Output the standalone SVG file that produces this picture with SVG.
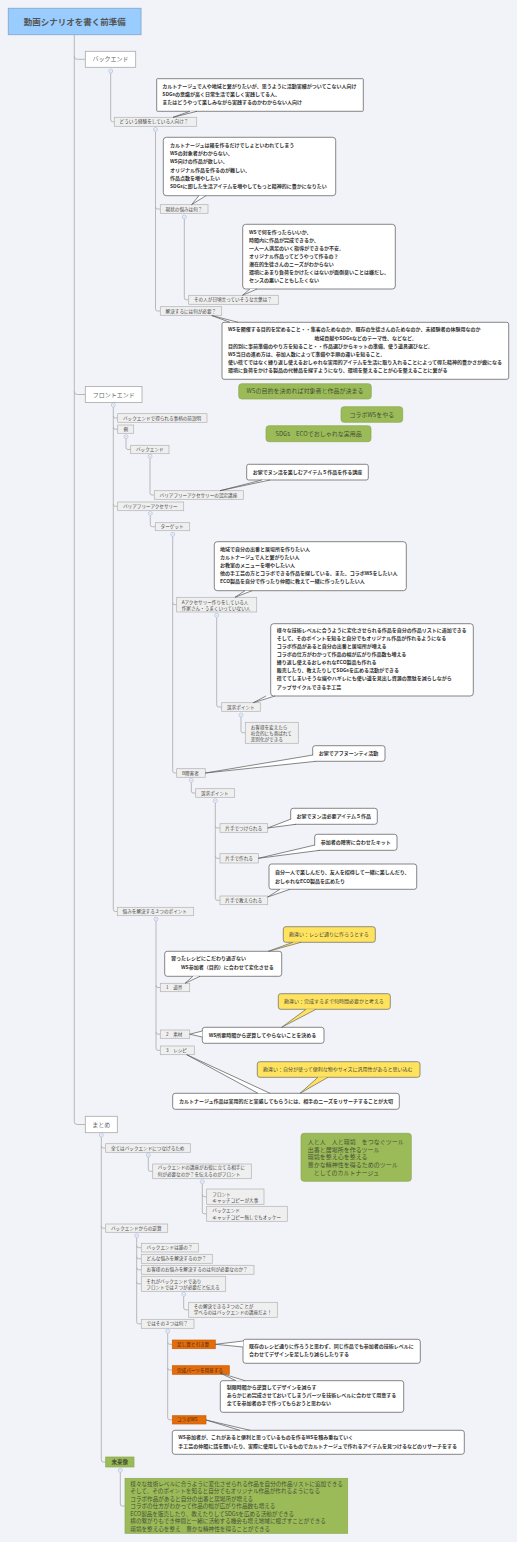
<svg xmlns="http://www.w3.org/2000/svg" width="517" height="1542" viewBox="0 0 517 1542">
<style>
text{font-family:"Noto Sans CJK JP","Noto Sans",sans-serif}
.ln{fill:none;stroke:#a8a8a8;stroke-width:0.8}
.top rect{fill:#fff;stroke:#a8a8a8;stroke-width:0.8}
.top text{font-size:6px;fill:#666;text-anchor:middle}
.sm rect{fill:#efefef;stroke:#b2b2b2;stroke-width:0.7}
.sm text{font-size:4.6px;fill:#444}
.or rect{fill:#e46c0a;stroke:#c9600a;stroke-width:0.7}
.or text{font-size:4.6px;fill:#3a2a1a}
.co rect,.co path{fill:#fff;stroke:#555;stroke-width:0.7}
.co text{font-size:5px;font-weight:bold;fill:#333}
.ye rect,.ye path{fill:#ffe35e;stroke:#666;stroke-width:0.7}
.ye text{font-size:5px;fill:#444}
.gr rect{fill:#9bbb59;stroke:#8aa84f;stroke-width:0.7}
.gr text{fill:#474f36}
.cc circle{fill:#f7f8fc;stroke:#9fb3d9;stroke-width:0.6}
.cc path{stroke:#9fb3d9;stroke-width:0.5}
</style>
<rect x="0" y="0" width="517" height="1542" fill="#f2f3f8"/>

<g id="connectors" class="ln">
<path d="M74.3,34.7 V1121.5 Q74.3,1124.5 77.3,1124.5 H85.3"/>
<path d="M74.3,56.3 Q74.3,59.3 77.3,59.3 H85.3"/>
<path d="M74.3,391.5 Q74.3,394.5 77.3,394.5 H85.3"/>
<path d="M110.7,73 V119.8 Q110.7,121.8 112.7,121.8 H114.3"/>
<path d="M155.5,131.5 V309 Q155.5,311 157.5,311 H160.3"/>
<path d="M155.5,207 Q155.5,209 157.5,209 H160.3"/>
<path d="M184.3,219 V297.8 Q184.3,299.8 186.3,299.8 H188.7"/>
<path d="M113.3,407 V909.5 Q113.3,911.5 115.3,911.5 H117.3"/>
<path d="M113.3,416 Q113.3,418 115.3,418 H117.7"/>
<path d="M113.3,427.2 Q113.3,429.2 115.3,429.2 H117.7"/>
<path d="M113.3,504.3 Q113.3,506.3 115.3,506.3 H117.7"/>
<path d="M126,438.7 V447.5 Q126,449.5 128,449.5 H130.7"/>
<path d="M150,458.3 V493 Q150,495 152,495 H154.3"/>
<path d="M150.3,515.5 V524.7 Q150.3,526.7 152.3,526.7 H155.3"/>
<path d="M172.7,536.3 V771 Q172.7,773 174.7,773 H176.7"/>
<path d="M172.7,602.7 Q172.7,604.7 174.7,604.7 H176.7"/>
<path d="M216.7,617.3 V705 Q216.7,707 218.7,707 H221.7"/>
<path d="M241,717 V730.8 Q241,732.8 243,732.8 H245.3"/>
<path d="M191.3,782.3 V791 Q191.3,793 193.3,793 H195.7"/>
<path d="M215.3,802.7 V898.3 Q215.3,900.3 217.3,900.3 H220"/>
<path d="M215.3,826 Q215.3,828 217.3,828 H220"/>
<path d="M215.3,856.3 Q215.3,858.3 217.3,858.3 H220"/>
<path d="M156,921 V1048.3 Q156,1050.3 158,1050.3 H160.3"/>
<path d="M156,985.5 Q156,987.5 158,987.5 H160.3"/>
<path d="M156,1032.2 Q156,1034.2 158,1034.2 H160.3"/>
<path d="M101.3,1137 V1460 Q101.3,1462 103.3,1462 H105.7"/>
<path d="M101.3,1146 Q101.3,1148 103.3,1148 H105.7"/>
<path d="M101.3,1226.2 Q101.3,1228.2 103.3,1228.2 H105.7"/>
<path d="M148.3,1157 V1169.3 Q148.3,1171.3 150.3,1171.3 H152.7"/>
<path d="M202.3,1183.7 V1211.8 Q202.3,1213.8 204.3,1213.8 H206.7"/>
<path d="M202.3,1194.7 Q202.3,1196.7 204.3,1196.7 H206.7"/>
<path d="M136.7,1237.7 V1321.8 Q136.7,1323.8 138.7,1323.8 H141.3"/>
<path d="M136.7,1245.7 Q136.7,1247.7 138.7,1247.7 H141.3"/>
<path d="M136.7,1256.8 Q136.7,1258.8 138.7,1258.8 H141.3"/>
<path d="M136.7,1267.8 Q136.7,1269.8 138.7,1269.8 H141.3"/>
<path d="M136.7,1281.8 Q136.7,1283.8 138.7,1283.8 H141.3"/>
<path d="M183.7,1296.3 V1307.8 Q183.7,1309.8 185.7,1309.8 H188.7"/>
<path d="M167.7,1333.3 V1417.8 Q167.7,1419.8 169.7,1419.8 H172.3"/>
<path d="M167.7,1342.3 Q167.7,1344.3 169.7,1344.3 H172.3"/>
<path d="M167.7,1368 Q167.7,1370 169.7,1370 H172.3"/>
<path d="M120.3,1472.3 V1504 Q120.3,1506 122.3,1506 H125"/>
</g>

<g id="title">
<rect x="8.3" y="8.3" width="132.7" height="26.4" fill="#99ccff" stroke="#86a9cc" stroke-width="0.9"/>
<text x="74.7" y="24.6" font-size="8.5" font-weight="bold" fill="#555" text-anchor="middle">動画シナリオを書く前準備</text>
</g>

<g id="n-backend" class="top"><rect x="85.3" y="51.3" width="50.4" height="16"/><text x="110.5" y="61.4">バックエンド</text></g>
<g id="n-frontend" class="top"><rect x="85.3" y="386.5" width="56.7" height="16"/><text x="113.7" y="396.6">フロントエンド</text></g>
<g id="n-matome" class="top"><rect x="85.3" y="1116.3" width="32" height="16.4"/><text x="101.3" y="1126.6">まとめ</text></g>

<g id="n-dou" class="sm"><rect x="114.3" y="117.3" width="82.4" height="9"/><text x="119.6" y="123.4">どういう経験をしている人向け？</text></g>
<g id="n-gen" class="sm"><rect x="160.3" y="204.7" width="47.7" height="8.6"/><text x="165.6" y="210.6">現状の悩みは何？</text></g>
<g id="n-sono" class="sm"><rect x="188.7" y="295.3" width="89.6" height="9"/><text x="194" y="301.4">その人が日頃言っていそうな言葉は？</text></g>
<g id="n-kai" class="sm"><rect x="160.3" y="306.7" width="61.4" height="8.6"/><text x="165.6" y="312.6">解決するには何が必要？</text></g>
<g id="n-mae" class="sm"><rect x="117.7" y="413.7" width="89.3" height="8.6"/><text x="123" y="419.6">バックエンドで得られる事柄の前説明</text></g>
<g id="n-rei" class="sm"><rect x="117.7" y="425" width="16" height="8.3"/><text x="123.4" y="430.8">例</text></g>
<g id="n-be2" class="sm"><rect x="130.7" y="445.3" width="38.3" height="8.4"/><text x="136" y="451.1">バックエンド</text></g>
<g id="n-nin" class="sm"><rect x="154.3" y="490.7" width="89" height="8.6"/><text x="159.6" y="496.6">バリアフリーアクセサリーの認定講座</text></g>
<g id="n-bfa" class="sm"><rect x="117.7" y="502" width="66" height="8.7"/><text x="123" y="507.9">バリアフリーアクセサリー</text></g>
<g id="n-tg" class="sm"><rect x="155.3" y="522.7" width="34.4" height="8"/><text x="160.6" y="528.3">ターゲット</text></g>
<g id="n-a" class="sm"><rect x="176.7" y="597.3" width="80" height="14.7"/><text x="181.7" y="603.6">Aアクセサリー作りをしている人</text><text x="181.7" y="609.9">作家さん・うまくいっていない人</text></g>
<g id="n-so1" class="sm"><rect x="221.7" y="702.7" width="38.6" height="8.6"/><text x="227" y="708.6">訴求ポイント</text></g>
<g id="n-oky" class="sm"><rect x="245.3" y="722.3" width="53" height="21"/><text x="250.7" y="729.3">お客様を変えたら</text><text x="250.7" y="735.2">社会的にも喜ばれて</text><text x="250.7" y="741.2">差別化ができる</text></g>
<g id="n-b" class="sm"><rect x="176.7" y="768.7" width="28.6" height="8.6"/><text x="182" y="774.6">B障害者</text></g>
<g id="n-so2" class="sm"><rect x="195.7" y="788.7" width="39" height="8.6"/><text x="201" y="794.6">訴求ポイント</text></g>
<g id="n-k1" class="sm"><rect x="220" y="823.7" width="47.7" height="8.6"/><text x="225.3" y="829.6">片手でつけられる</text></g>
<g id="n-k2" class="sm"><rect x="220" y="853.7" width="38.3" height="9.3"/><text x="225.3" y="859.9">片手で作れる</text></g>
<g id="n-k3" class="sm"><rect x="220" y="896" width="47.7" height="8.7"/><text x="225.3" y="901.9">片手で教えられる</text></g>
<g id="n-nay" class="sm"><rect x="117.3" y="907.3" width="76.4" height="8.4"/><text x="122.6" y="913.1">悩みを解決する３つのポイント</text></g>
<g id="n-p1" class="sm"><rect x="160.3" y="983.3" width="29.4" height="8.4"/><text x="166" y="989.1">1　道具</text></g>
<g id="n-p2" class="sm"><rect x="160.3" y="1030" width="29.4" height="8.3"/><text x="166" y="1035.8">2　素材</text></g>
<g id="n-p3" class="sm"><rect x="160.3" y="1046" width="34" height="8.7"/><text x="166" y="1051.9">3　レシピ</text></g>
<g id="n-sub" class="sm"><rect x="105.7" y="1143.7" width="84.6" height="8.6"/><text x="111" y="1149.6">全てはバックエンドにつなげるため</text></g>
<g id="n-kou" class="sm"><rect x="152.7" y="1164" width="98.6" height="14.7"/><text x="157.7" y="1169.3">バックエンドの講座がお役に立てる相手に</text><text x="157.7" y="1175.6">何が必要なのか？を伝えるのがフロント</text></g>
<g id="n-fr" class="sm"><rect x="206.7" y="1189" width="57.3" height="15.3"/><text x="212.3" y="1195.6">フロント</text><text x="212.3" y="1201.6">キャッチコピーが大事</text></g>
<g id="n-bk" class="sm"><rect x="206.7" y="1206.3" width="80.6" height="15"/><text x="212.3" y="1212.3">バックエンド</text><text x="212.3" y="1218.9">キャッチコピー無しでもオッケー</text></g>
<g id="n-gya" class="sm"><rect x="105.7" y="1224" width="62" height="8.3"/><text x="111" y="1229.8">バックエンドからの逆算</text></g>
<g id="n-dare" class="sm"><rect x="141.3" y="1243.3" width="57" height="8.7"/><text x="146.6" y="1249.3">バックエンドは誰の？</text></g>
<g id="n-don" class="sm"><rect x="141.3" y="1254.3" width="71" height="9"/><text x="146.6" y="1260.4">どんな悩みを解決するのか？</text></g>
<g id="n-oka" class="sm"><rect x="141.3" y="1265.3" width="112.7" height="9"/><text x="146.6" y="1271.4">お客様のお悩みを解決するのは何が必要なのか？</text></g>
<g id="n-sore" class="sm"><rect x="141.3" y="1276.3" width="84.4" height="15"/><text x="146.3" y="1282.6">それがバックエンドであり</text><text x="146.3" y="1288.6">フロントでは２つが必要だと伝える</text></g>
<g id="n-kai3" class="sm"><rect x="188.7" y="1302.3" width="88.6" height="15"/><text x="193.7" y="1308.3">その解決できる３つのことが</text><text x="193.7" y="1314.3">学べるのはバックエンドの講座だよ！</text></g>
<g id="n-deha" class="sm"><rect x="141.3" y="1319.3" width="52.7" height="9"/><text x="146.6" y="1325.4">ではその３つは何？</text></g>
<g id="n-tashi" class="or"><rect x="172.3" y="1340" width="43" height="8.7"/><text x="177" y="1345.9">足し算と引き算</text></g>
<g id="n-kan" class="or"><rect x="172.3" y="1365.7" width="57" height="8.6"/><text x="177" y="1371.6">完成パーツを用意する</text></g>
<g id="n-colws" class="or"><rect x="172.3" y="1415.7" width="33.7" height="8.3"/><text x="177" y="1421.4">コラボWS</text></g>

<g id="c1" class="co"><rect x="156.7" y="78.7" width="206.6" height="32.6" rx="0.8"/><path d="M190,111.3 L173,117.3 L197,111.3"/>
<text x="162.3" y="87.5">カルトナージュで人や地域と繋がりたいが、思うように活動実績がついてこない人向け</text>
<text x="162.3" y="95.5">SDGsの意識が高く日常生活で楽しく実践してる人、</text>
<text x="162.3" y="103.5">またはどうやって楽しみながら実践するのかわからない人向け</text></g>

<g id="c2" class="co"><rect x="163.3" y="137.3" width="172.4" height="58.4" rx="3"/><path d="M199,195.7 L191.5,204.7 L206,195.7"/>
<text x="170" y="146.5">カルトナージュは箱を作るだけでしょといわれてしまう</text>
<text x="170" y="154.8">WSの対象者がわからない、</text>
<text x="170" y="163.1">WS向けの作品が欲しい、</text>
<text x="170" y="171.5">オリジナル作品を作るのが難しい、</text>
<text x="170" y="179.8">作品点数を増やしたい</text>
<text x="170" y="188.1">SDGsに即した生活アイテムを増やしてもっと精神的に豊かになりたい</text></g>

<g id="c3" class="co"><rect x="242.7" y="224.3" width="152.6" height="64.7" rx="3"/><path d="M250,289 L242.5,295.3 L257,289"/>
<text x="249" y="234.1">WSで何を作ったらいいか、</text>
<text x="249" y="241.8">時間内に作品が完成できるか、</text>
<text x="249" y="249.8">一人一人満足のいく指導ができるか不安。</text>
<text x="249" y="258.1">オリジナル作品ってどうやって作るの？</text>
<text x="249" y="266.1">潜在的生徒さんのニーズがわからない</text>
<text x="249" y="274.1">環境にあまり負荷をかけたくはないが面倒臭いことは嫌だし、</text>
<text x="249" y="282.1">センスの悪いこともしたくない</text></g>

<g id="c4" class="co"><rect x="222" y="322.3" width="286.7" height="57" rx="2"/><path d="M230,322.3 L211.7,315.5 L238,322.3"/>
<text x="228" y="331.1">WSを開催する目的を定めること・・集客のためなのか、既存の生徒さんのためなのか、未経験者の体験用なのか</text>
<text x="314.3" y="339.5">地域貢献やSDGsなどのテーマ性、などなど。</text>
<text x="228" y="347.5">目的別に事前準備のやり方を知ること・・作品選びからキットの準備、使う道具選びなど。</text>
<text x="228" y="355.5">WS当日の進め方は、参加人数によって準備や手順の違いを知ること。</text>
<text x="228" y="363.8">使い捨てではなく繰り返し使えるおしゃれな実用的アイテムを生活に取り入れることによって得た精神的豊かさが癖になる</text>
<text x="228" y="371.8">環境に負荷をかける製品の代替品を探すようになり、環境を整えることが心を整えることに繋がる</text></g>

<g id="g1" class="gr"><rect x="238.7" y="383.7" width="132.6" height="15.3" rx="3"/><text x="305" y="393.4" font-size="6" text-anchor="middle">WSの目的を決めれば対象者と作品が決まる</text></g>
<g id="g2" class="gr"><rect x="341" y="406.7" width="61.7" height="15.6" rx="3"/><text x="371.8" y="416.6" font-size="6" text-anchor="middle">コラボWSをやる</text></g>
<g id="g3" class="gr"><rect x="266" y="425.7" width="105" height="16" rx="3"/><text x="318.5" y="435.8" font-size="6" text-anchor="middle">SDGs　ECOでおしゃれな実用品</text></g>

<g id="c5" class="co"><rect x="246.7" y="464.3" width="121.6" height="15.7" rx="2"/><path d="M262,480 L220,490.7 L270,480"/>
<text x="252.7" y="474">お家でヌン活を楽しむアイテム５作品を作る講座</text></g>

<g id="c6" class="co"><rect x="214.3" y="541.7" width="192" height="49" rx="3"/><path d="M245,590.7 L235,597.3 L252,590.7"/>
<text x="220" y="550.8">地域で自分の出番と居場所を作りたい人</text>
<text x="220" y="558.8">カルトナージュで人と繋がりたい人</text>
<text x="220" y="566.8">お教室のメニューを増やしたい人</text>
<text x="220" y="574.8">他の手工芸の方とコラボできる作品を探している、また、コラボWSをしたい人</text>
<text x="220" y="582.8">ECO製品を自分で作ったり仲間に教えて一緒に作ったりしたい人</text></g>

<g id="c7" class="co"><rect x="270.7" y="623.7" width="202.6" height="72.3" rx="3"/><path d="M266,696 L253.3,702.7 L275,696"/>
<text x="276.7" y="631.8">様々な技術レベルに合うように変化させられる作品を自分の作品リストに追加できる</text>
<text x="276.7" y="639.9">そして、そのポイントを知ると自分でもオリジナル作品が作れるようになる</text>
<text x="276.7" y="648">コラボ作品があると自分の出番と居場所が増える</text>
<text x="276.7" y="656.1">コラボの仕方がわかって作品の幅が広がり作品数も増える</text>
<text x="276.7" y="664.2">繰り返し使えるおしゃれなECO製品も作れる</text>
<text x="276.7" y="672.3">販売したり、教えたりしてSDGsを広める活動ができる</text>
<text x="276.7" y="680.4">捨ててしまいそうな端やハギレにも使い道を見出し資源の無駄を減らしながら</text>
<text x="276.7" y="688.5">アップサイクルできる手工芸</text></g>

<g id="c8" class="co"><rect x="312.7" y="745.7" width="72.3" height="15.6" rx="2.5"/><path d="M313,755 L205.3,773 L316,761.3"/>
<text x="318.7" y="755.3">お家でアフヌーンティ活動</text></g>

<g id="c9" class="co"><rect x="290.7" y="808.3" width="86.6" height="16" rx="2.5"/><path d="M291,819 L267.7,828 L296,824.3"/>
<text x="296.5" y="818.1">お家でヌン活必要アイテム５作品</text></g>

<g id="c10" class="co"><rect x="314.7" y="834.3" width="82.3" height="16" rx="2.5"/><path d="M315,845 L258.3,858.3 L320,850.3"/>
<text x="320.7" y="844.1">参加者の障害に合わせたキット</text></g>

<g id="c11" class="co"><rect x="269" y="864" width="147.7" height="25.3" rx="2.5"/><path d="M280,889.3 L267.7,897 L290,889.3"/>
<text x="275" y="873.8">自分一人で楽しんだり、友人を招待して一緒に楽しんだり、</text>
<text x="275" y="882.5">おしゃれなECO製品を広めたり</text></g>

<g id="c12" class="co"><rect x="164.7" y="951.3" width="117" height="25" rx="2.5"/><path d="M193,976.3 L185,983.3 L200,976.3"/>
<text x="171" y="960.1">習ったレシピにこだわり過ぎない</text>
<text x="181" y="968.5">WS参加者（目的）に合わせて変化させる</text></g>

<g id="y1" class="ye"><rect x="283.3" y="926.7" width="92" height="15.6" rx="2.5"/><path d="M293,942.3 L268.3,951.3 L301,942.3"/>
<text x="289" y="936.3">勘違い：レシピ通りに作ろうとする</text></g>

<g id="c13" class="co"><rect x="202.3" y="1027.3" width="121.7" height="16" rx="2.5"/><path d="M202.3,1031 L189.7,1034.2 L202.3,1037"/>
<text x="208.7" y="1037.1">WS所要時間から逆算してやらないことを決める</text></g>

<g id="y2" class="ye"><rect x="278.3" y="993.7" width="112" height="15.6" rx="2.5"/><path d="M306,1009.3 L281.7,1027.3 L316,1009.3"/>
<text x="284" y="1003.3">勘違い：完成するまで何時間必要かと考える</text></g>

<g id="c14" class="co"><rect x="172.7" y="1093.3" width="226.6" height="16" rx="2.5"/><path d="M258,1093.3 L186.7,1054.7 L270,1093.3"/>
<text x="179" y="1103.1">カルトナージュ作品は実用的だと実感してもらうには、相手のニーズをリサーチすることが大切</text></g>

<g id="y3" class="ye"><rect x="257.3" y="1061.7" width="162.7" height="15.6" rx="2.5"/><path d="M318,1077.3 L300,1093.3 L328,1077.3"/>
<text x="263" y="1071.3">勘違い：自分が使って便利な物やサイズに汎用性があると思い込む</text></g>

<g id="g4" class="gr"><rect x="301" y="1133.3" width="110.3" height="48" rx="3"/>
<text x="307.7" y="1143.8" font-size="6">人と人　人と環境　をつなぐツール</text>
<text x="307.7" y="1151.8" font-size="6">出番と居場所を作るツール</text>
<text x="307.7" y="1159.4" font-size="6">環境を整え心を整える</text>
<text x="307.7" y="1167.4" font-size="6">豊かな精神性を得るためのツール</text>
<text x="307.7" y="1175.4" font-size="6">　としてのカルトナージュ</text></g>

<g id="c15" class="co"><rect x="243" y="1339.3" width="177.3" height="24" rx="2.5"/><path d="M243,1341 L215.3,1344.3 L243,1347"/>
<text x="249" y="1347.8">既存のレシピ通りに作ろうと思わず、同じ作品でも参加者の技術レベルに</text>
<text x="249" y="1355.8">合わせてデザインを足したり減らしたりする</text></g>

<g id="c16" class="co"><rect x="220.3" y="1380.7" width="183.4" height="31.6" rx="2.5"/><path d="M236,1380.7 L220,1373 L245,1380.7"/>
<text x="226.7" y="1389.1">制限時間から逆算してデザインを減らす</text>
<text x="226.7" y="1397.1">あらかじめ完成させておいてしまうパーツを技術レベルに合わせて用意する</text>
<text x="226.7" y="1405.1">全てを参加者の手で作ってもらおうと思わない</text></g>

<g id="c17" class="co"><rect x="172.3" y="1430.3" width="292" height="24" rx="2.5"/><path d="M240,1430.3 L206,1420 L250,1430.3"/>
<text x="178.3" y="1439.1">WS参加者が、これがあると便利と思っているものを作るWSを積み重ねていく</text>
<text x="178.3" y="1447.5">手工芸の仲間に話を聞いたり、実際に使用しているものでカルトナージュで作れるアイテムを見つけるなどのリサーチをする</text></g>

<g id="n-mirai" class="gr"><rect x="105.7" y="1457" width="28.3" height="10"/><text x="119.8" y="1464" font-size="5.5" font-weight="bold" fill="#333" text-anchor="middle">未来像</text></g>

<g id="g6" class="gr"><rect x="125" y="1478.3" width="222.7" height="55"/>
<text x="130.3" y="1486" font-size="5.6">様々な技術レベルに合うように変化させられる作品を自分の作品リストに追加できる</text>
<text x="130.3" y="1493.3" font-size="5.6">そして、そのポイントを知ると自分でもオリジナル作品が作れるようになる</text>
<text x="130.3" y="1501" font-size="5.6">コラボ作品があると自分の出番と居場所が増える</text>
<text x="130.3" y="1508.3" font-size="5.6">コラボの仕方がわかって作品の幅が広がり作品数も増える</text>
<text x="130.3" y="1515.7" font-size="5.6">ECO製品を販売したり、教えたりしてSDGsを広める活動ができる</text>
<text x="130.3" y="1523.3" font-size="5.6">横の繋がりもでき仲間と一緒に活動する機会も増え地域に根ざすことができる</text>
<text x="130.3" y="1531" font-size="5.6">環境を整え心を整え　豊かな精神性を得ることができる</text></g>

<g id="collapse" class="cc">
<circle cx="110.7" cy="71" r="2"/><path d="M109.7,71 H111.7"/>
<circle cx="155.5" cy="129.5" r="2"/><path d="M154.5,129.5 H156.5"/>
<circle cx="184.3" cy="217" r="2"/><path d="M183.3,217 H185.3"/>
<circle cx="113.3" cy="405" r="2"/><path d="M112.3,405 H114.3"/>
<circle cx="126" cy="436.7" r="2"/><path d="M125,436.7 H127"/>
<circle cx="150" cy="456.3" r="2"/><path d="M149,456.3 H151"/>
<circle cx="150.3" cy="513.5" r="2"/><path d="M149.3,513.5 H151.3"/>
<circle cx="172.7" cy="534.3" r="2"/><path d="M171.7,534.3 H173.7"/>
<circle cx="216.7" cy="615.3" r="2"/><path d="M215.7,615.3 H217.7"/>
<circle cx="241" cy="715" r="2"/><path d="M240,715 H242"/>
<circle cx="191.3" cy="780.3" r="2"/><path d="M190.3,780.3 H192.3"/>
<circle cx="215.3" cy="800.7" r="2"/><path d="M214.3,800.7 H216.3"/>
<circle cx="156" cy="919" r="2"/><path d="M155,919 H157"/>
<circle cx="101.3" cy="1135" r="2"/><path d="M100.3,1135 H102.3"/>
<circle cx="148.3" cy="1155" r="2"/><path d="M147.3,1155 H149.3"/>
<circle cx="202.3" cy="1181.7" r="2"/><path d="M201.3,1181.7 H203.3"/>
<circle cx="136.7" cy="1235.7" r="2"/><path d="M135.7,1235.7 H137.7"/>
<circle cx="183.7" cy="1294.3" r="2"/><path d="M182.7,1294.3 H184.7"/>
<circle cx="167.7" cy="1331.3" r="2"/><path d="M166.7,1331.3 H168.7"/>
<circle cx="120.3" cy="1470.3" r="2"/><path d="M119.3,1470.3 H121.3"/>
</g>
</svg>
